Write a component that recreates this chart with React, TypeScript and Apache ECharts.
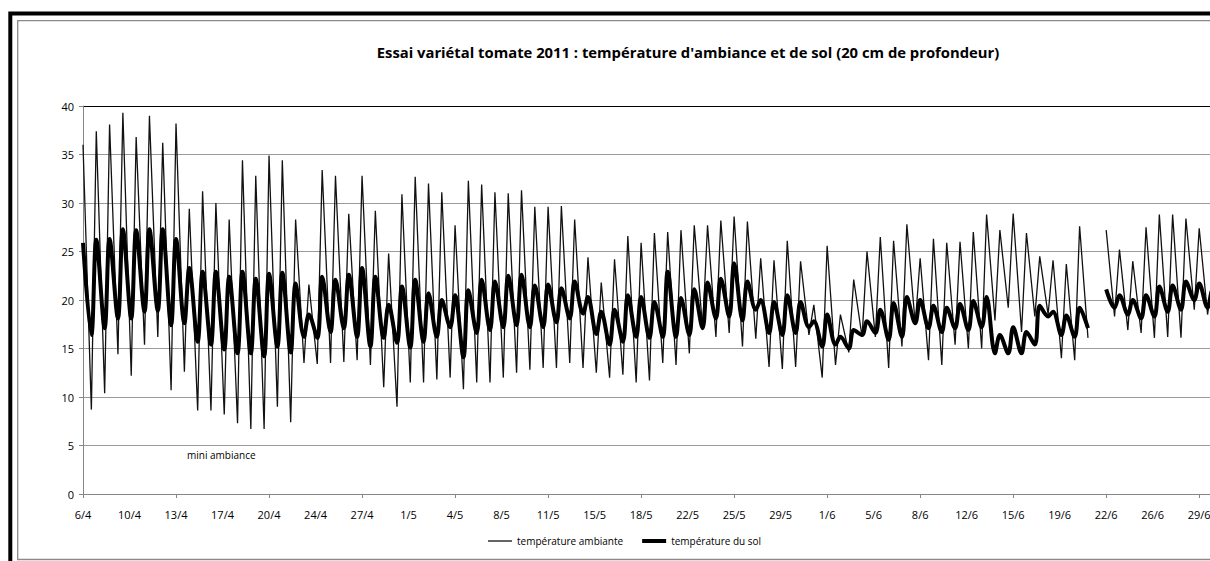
import React, { useEffect, useRef } from "react";
import * as echarts from "echarts";

// Tick labels of the date axis (one label every 3.5 days from 6/4)
const tickLabels = [
  "6/4", "10/4", "13/4", "17/4", "20/4", "24/4", "27/4", "1/5", "4/5", "8/5",
  "11/5", "15/5", "18/5", "22/5", "25/5", "29/5", "1/6", "5/6", "8/6", "12/6",
  "15/6", "19/6", "22/6", "26/6", "29/6",
];

// Daily maxima / minima of ambient temperature (°C), day 0 = 6/4
const ambientMax = [
  36.0, 37.4, 38.1, 39.3, 36.8, 39.0, 36.2, 38.2, 29.4, 31.2,
  30.0, 28.3, 34.4, 32.8, 34.9, 34.4, 28.3, 21.6, 33.4, 32.8,
  28.9, 32.8, 29.2, 24.8, 30.9, 32.7, 32.0, 31.1, 27.7, 32.3,
  31.9, 31.1, 31.0, 31.3, 29.6, 29.6, 29.7, 28.3, 24.4, 21.8,
  24.2, 26.6, 25.9, 26.9, 27.0, 27.2, 27.7, 27.7, 28.2, 28.6,
  28.1, 24.3, 24.1, 26.1, 24.0, 19.5, 25.6, 18.5, 22.1, 25.0,
  26.5, 26.1, 27.8, 24.3, 26.3, 25.9, 26.0, 27.0, 28.8, 27.2,
  28.9, 26.9, 24.5, 24.1, 23.7, 27.6, null, 27.2, 25.2, 24.0,
  27.5, 28.8, 28.8, 28.4, 27.4, 22.4,
];
const ambientMin = [
  8.7, 10.4, 14.4, 12.2, 15.4, 16.2, 10.7, 12.6, 8.6, 8.6,
  8.2, 7.3, 6.7, 6.7, 9.0, 7.4, 13.5, 13.4, 13.5, 13.6,
  13.8, 13.3, 11.0, 9.0, 11.5, 11.5, 11.8, 12.0, 10.8, 11.5,
  11.5, 12.0, 12.5, 12.8, 13.0, 13.0, 13.5, 13.0, 12.5, 12.0,
  12.3, 11.5, 11.7, 13.5, 13.3, 14.5, 17.1, 16.2, 16.6, 15.2,
  16.0, 13.1, 12.9, 13.1, 16.4, 12.0, 13.3, 14.6, 16.2, 16.2,
  13.0, 15.2, 17.5, 13.8, 13.3, 15.4, 15.0, 15.0, 17.9, 19.2,
  16.7, 18.3, 18.5, 14.0, 13.8, 16.1, null, 18.3, 16.9, 16.6,
  16.1, 16.2, 16.1, 19.0, 18.5, 18.0,
];

// Daily maxima / minima of soil temperature at 20 cm (°C)
const soilMax = [
  25.9, 26.2, 26.3, 27.3, 27.2, 27.3, 27.3, 26.3, 23.3, 22.9,
  22.9, 22.4, 22.9, 22.2, 22.7, 22.8, 21.7, 18.5, 22.4, 22.1,
  22.6, 23.3, 22.4, 19.5, 21.4, 22.1, 20.7, 20.0, 20.5, 21.0,
  22.1, 21.9, 22.5, 22.6, 21.5, 21.6, 21.2, 21.9, 20.3, 18.8,
  19.0, 20.5, 20.3, 19.8, 22.9, 20.2, 21.1, 21.8, 22.2, 23.8,
  21.9, 20.0, 19.8, 20.5, 19.8, 17.8, 18.5, 16.2, 16.9, 17.8,
  19.0, 19.7, 20.3, 20.0, 19.4, 19.2, 19.6, 19.9, 20.3, 16.4,
  17.2, 16.7, 19.4, 18.8, 18.4, 19.2, null, 21.1, 20.5, 20.0,
  20.5, 21.4, 21.5, 21.9, 21.7, 21.0,
];
const soilMin = [
  16.4, 17.1, 18.1, 18.1, 18.8, 18.9, 17.4, 17.6, 15.7, 15.4,
  14.9, 14.5, 14.5, 14.2, 15.2, 14.6, 16.2, 16.1, 16.7, 17.1,
  16.2, 15.2, 16.1, 15.6, 15.1, 15.7, 16.2, 17.2, 14.1, 16.6,
  16.9, 17.2, 17.4, 17.2, 17.2, 17.7, 18.1, 18.6, 16.5, 15.4,
  15.7, 16.2, 16.1, 16.2, 16.2, 16.4, 17.1, 18.1, 18.3, 17.9,
  19.0, 16.6, 16.4, 16.6, 17.2, 15.2, 15.4, 15.0, 16.4, 16.6,
  15.9, 16.2, 17.6, 17.1, 16.7, 17.1, 16.9, 17.2, 14.5, 14.5,
  14.5, 15.4, 18.3, 16.4, 16.2, 17.1, null, 19.2, 18.5, 18.1,
  18.3, 18.8, 19.0, 20.0, 19.2, 19.0,
];

// Time of day of the minimum, as a fraction of a day after the maximum
const MIN_PHASE = 0.63;

function buildSeries(maxArr: (number | null)[], minArr: (number | null)[]) {
  const out: [number, number | null][] = [];
  for (let i = 0; i < maxArr.length; i++) {
    out.push([i, maxArr[i]]);
    out.push([i + MIN_PHASE, minArr[i]]);
  }
  return out;
}

const FONT = "Open Sans";
const CHART_W = 1290; // drawn wider than the page; the right part is cut off like the source

export default function App() {
  const ref = useRef<HTMLDivElement>(null);
  useEffect(() => {
    document.documentElement.style.overflow = "hidden";
    document.body.style.overflow = "hidden";
    document.body.style.margin = "0";
    if (!ref.current) return;
    const chart = echarts.init(ref.current, undefined, { renderer: "svg" });
    chart.setOption({
      animation: false,
      backgroundColor: "#ffffff",
      title: {
        text: "Essai variétal tomate 2011 : température d'ambiance et de sol (20 cm de profondeur)",
        left: 683,
        top: 39,
        textAlign: "center",
        textStyle: { fontFamily: FONT, fontSize: 14.8, fontWeight: "bold", color: "#000" },
      },
      legend: {
        left: 488,
        top: 536,
        padding: 0,
        itemWidth: 24,
        itemHeight: 12,
        itemGap: 19,
        textStyle: { fontFamily: FONT, fontSize: 10, color: "#000" },
        data: [
          { name: "température ambiante", icon: "path://M0,0L24,0L24,1.3L0,1.3Z" },
          { name: "température du sol", icon: "path://M0,0L24,0L24,4L0,4Z" },
        ],
      },
      grid: { left: 83, top: 106, width: 1176, bottom: 67, containLabel: false },
      xAxis: [
        {
          type: "value",
          min: 0,
          max: 88.5,
          interval: 3.5,
          axisLine: { show: true, lineStyle: { color: "#868686", width: 1 } },
          axisTick: { show: false },
          splitLine: { show: false },
          axisLabel: {
            margin: 15,
            fontFamily: FONT,
            fontSize: 11,
            color: "#000",
            formatter: (v: number) => {
              const k = v / 3.5;
              const r = Math.round(k);
              return Math.abs(k - r) < 1e-6 && tickLabels[r] ? tickLabels[r] : "";
            },
          },
        },
        {
          type: "value",
          min: 0,
          max: 88.5,
          interval: 7,
          position: "bottom",
          axisLine: { show: false },
          axisTick: { show: true, length: 4, lineStyle: { color: "#868686" } },
          axisLabel: { show: false },
          splitLine: { show: false },
        },
      ],
      yAxis: {
        type: "value",
        min: 0,
        max: 40,
        interval: 5,
        axisLine: { show: true, lineStyle: { color: "#868686" } },
        axisTick: { show: true, length: 4, lineStyle: { color: "#868686" } },
        axisLabel: { margin: 9, fontFamily: FONT, fontSize: 11, color: "#000" },
        splitLine: {
          show: true,
          lineStyle: {
            width: 1,
            color: ["#868686", "#9a9a9a", "#9a9a9a", "#9a9a9a", "#9a9a9a", "#9a9a9a", "#9a9a9a", "#9a9a9a", "#000000"],
          },
        },
      },
      series: [
        {
          name: "température ambiante",
          type: "line",
          xAxisIndex: 0,
          data: buildSeries(ambientMax, ambientMin),
          showSymbol: false,
          symbol: "none",
          connectNulls: false,
          lineStyle: { color: "#111", width: 1.3 },
          itemStyle: { color: "#111" },
          z: 2,
        },
        {
          name: "température du sol",
          type: "line",
          xAxisIndex: 0,
          data: buildSeries(soilMax, soilMin),
          showSymbol: false,
          symbol: "none",
          smooth: 0.35,
          connectNulls: false,
          lineStyle: { color: "#000", width: 4 },
          itemStyle: { color: "#000" },
          z: 3,
        },
      ],
      graphic: [
        {
          type: "polyline",
          shape: { points: [[10.3, 600], [10.3, 13.5], [1400, 13.5]] },
          style: { fill: null, stroke: "#000", lineWidth: 4 },
          silent: true,
        },
        {
          type: "polyline",
          shape: { points: [[1400, 559.5], [17.7, 559.5], [17.7, 20.7], [1400, 20.7]] },
          style: { fill: null, stroke: "#8a8a8a", lineWidth: 1.3 },
          silent: true,
        },
        {
          type: "text",
          x: 187,
          y: 455,
          style: {
            text: "mini ambiance",
            fontFamily: FONT,
            fontSize: 10,
            fill: "#000",
            textVerticalAlign: "middle",
          },
          silent: true,
        },
      ],
    });
    return () => chart.dispose();
  }, []);
  return (
    <div
      style={{ position: "absolute", left: 0, top: 0, width: 1210, height: 561, overflow: "hidden", background: "#fff" }}
    >
      <div ref={ref} style={{ width: CHART_W, height: 561 }} />
    </div>
  );
}
